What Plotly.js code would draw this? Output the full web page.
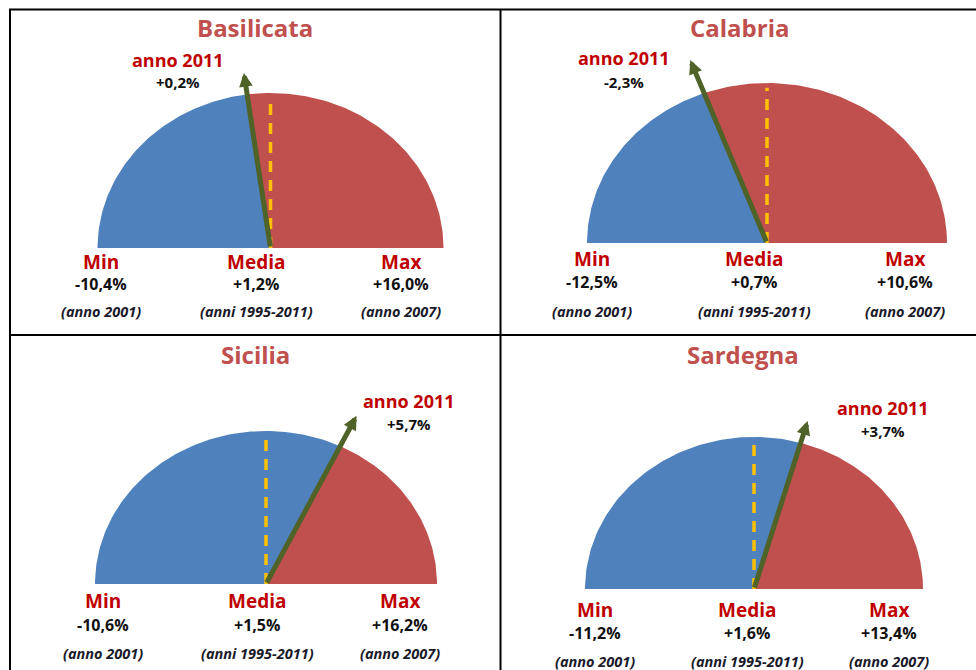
<!DOCTYPE html>
<html><head><meta charset="utf-8">
<script src="https://cdn.plot.ly/plotly-3.0.1.min.js"></script>
<style>html,body{margin:0;padding:0;background:#fff}#chart{width:976px;height:670px}</style>
</head><body><div id="chart"></div>
<script>
// ---- data ----
const regions = ['Basilicata', 'Calabria', 'Sicilia', 'Sardegna'];
const minValues = [-10.4, -12.5, -10.6, -11.2];
const meanValues = [1.2, 0.7, 1.5, 1.6];
const maxValues = [16.0, 10.6, 16.2, 13.4];
const values2011 = [0.2, -2.3, 5.7, 3.7];
const minYears = ['(anno 2001)', '(anno 2001)', '(anno 2001)', '(anno 2001)'];
const meanPeriods = ['(anni 1995-2011)', '(anni 1995-2011)', '(anni 1995-2011)', '(anni 1995-2011)'];
const maxYears = ['(anno 2007)', '(anno 2007)', '(anno 2007)', '(anno 2007)'];
const colLabels = ['Min', 'Media', 'Max'];
const currentLabel = 'anno 2011';

// ---- layout geometry (pixels) ----
const W = 976, H = 670;
const panels = [
  {cell: [11, 500, 10, 334], cx: 270.5, cy: 248, rx: 173, ry: 155, arrowLen: 1.14,
   title: [255, 28], cur: [178, 60, 82], cols: [101, 256, 401], rows: [262, 284, 312]},
  {cell: [502, 976, 10, 334], cx: 767, cy: 243, rx: 180, ry: 160, arrowLen: 1.22,
   title: [740, 28], cur: [624, 58, 82], cols: [592, 754, 905], rows: [259, 282, 311]},
  {cell: [11, 500, 336, 670], cx: 266, cy: 584, rx: 171, ry: 153, arrowLen: 1.22,
   title: [255, 354], cur: [409, 401, 424], cols: [103, 257, 400], rows: [601, 625, 653]},
  {cell: [502, 976, 336, 670], cx: 754, cy: 589, rx: 169, ry: 152, arrowLen: 1.15,
   title: [743, 354], cur: [883, 408, 431], cols: [595, 747, 889], rows: [610, 633, 661]}
];

const BLUE = '#4F81BD', RED = '#C0504D', ARROW = '#4F6228', DASH = '#FFC000';
const LABEL_RED = '#C00000';
const FONT = 'Open Sans, Lato, sans-serif';

function fmt(v) {
  return (v > 0 ? '+' : '') + v.toFixed(1).replace('.', ',') + '%';
}
function angleOf(v, mn, md, mx) {
  if (v <= md) return 180 - 90 * (v - mn) / (md - mn);
  return 90 - 90 * (v - md) / (mx - md);
}
function sector(a0, a1) {
  const xs = [0], ys = [0];
  const n = 90;
  for (let k = 0; k <= n; k++) {
    const a = (a0 + (a1 - a0) * k / n) * Math.PI / 180;
    xs.push(Math.cos(a)); ys.push(Math.sin(a));
  }
  xs.push(0); ys.push(0);
  return {xs, ys};
}

const traces = [];
const layout = {
  width: W, height: H,
  margin: {l: 0, r: 0, t: 0, b: 0},
  paper_bgcolor: '#fff', plot_bgcolor: 'rgba(0,0,0,0)',
  showlegend: false,
  annotations: [], shapes: []
};

function txt(text, px, py, size, color, opts) {
  opts = opts || {};
  layout.annotations.push({
    xref: 'paper', yref: 'paper', x: px / W, y: 1 - py / H,
    xanchor: 'center', yanchor: 'middle', showarrow: false,
    text: '<b>' + text + '</b>',
    font: {family: FONT, size: size, color: color, weight: 700, style: opts.italic ? 'italic' : 'normal'}
  });
}

regions.forEach((name, i) => {
  const p = panels[i];
  const sfx = i === 0 ? '' : String(i + 1);
  const xa = 'x' + sfx, ya = 'y' + sfx;
  const [x0, x1, y0, y1] = p.cell;
  layout['xaxis' + sfx] = {
    domain: [x0 / W, x1 / W],
    range: [(x0 - p.cx) / p.rx, (x1 - p.cx) / p.rx],
    visible: false, fixedrange: true, anchor: ya
  };
  layout['yaxis' + sfx] = {
    domain: [1 - y1 / H, 1 - y0 / H],
    range: [(p.cy - y1) / p.ry, (p.cy - y0) / p.ry],
    visible: false, fixedrange: true, anchor: xa
  };
  const phi = angleOf(values2011[i], minValues[i], meanValues[i], maxValues[i]);
  const blue = sector(180, phi);
  const red = sector(phi, 0);
  traces.push({x: blue.xs, y: blue.ys, xaxis: xa, yaxis: ya, mode: 'lines',
    line: {width: 0, color: BLUE}, fill: 'toself', fillcolor: BLUE, hoverinfo: 'skip'});
  traces.push({x: red.xs, y: red.ys, xaxis: xa, yaxis: ya, mode: 'lines',
    line: {width: 0, color: RED}, fill: 'toself', fillcolor: RED, hoverinfo: 'skip'});

  // mean marker (dashed vertical)
  layout.shapes.push({type: 'line', xref: xa, yref: ya, x0: 0, x1: 0, y0: 0, y1: 0.97,
    line: {color: DASH, width: 3.5, dash: '11px,8px'}});

  // 2011 arrow
  const a = phi * Math.PI / 180;
  layout.annotations.push({
    xref: xa, yref: ya, axref: xa, ayref: ya,
    x: p.arrowLen * Math.cos(a), y: p.arrowLen * Math.sin(a), ax: 0, ay: 0,
    text: '', showarrow: true, arrowhead: 2, arrowwidth: 5, arrowsize: 0.55,
    arrowcolor: ARROW, standoff: 0
  });

  // texts
  txt(name, p.title[0], p.title[1], 24, RED);
  txt(currentLabel, p.cur[0], p.cur[1], 18, LABEL_RED);
  txt(fmt(values2011[i]), p.cur[0], p.cur[2], 15, '#111');
  const vals = [minValues[i], meanValues[i], maxValues[i]];
  const subs = [minYears[i], meanPeriods[i], maxYears[i]];
  for (let c = 0; c < 3; c++) {
    txt(colLabels[c], p.cols[c], p.rows[0], 19, LABEL_RED);
    txt(fmt(vals[c]), p.cols[c], p.rows[1], 16, '#111');
    txt(subs[c], p.cols[c], p.rows[2], 14.5, '#1a1a2a', {italic: true});
  }
});

// frame lines
function pline(xa, ya, xb, yb) {
  layout.shapes.push({type: 'line', xref: 'paper', yref: 'paper',
    x0: xa / W, y0: 1 - ya / H, x1: xb / W, y1: 1 - yb / H,
    line: {color: '#000', width: 2}});
}
pline(9, 9.5, 976, 9.5);
pline(10, 9, 10, 670);
pline(500.5, 9, 500.5, 670);
pline(10, 335, 976, 335);

Plotly.newPlot('chart', traces, layout, {displayModeBar: false, staticPlot: true});
</script></body></html>
